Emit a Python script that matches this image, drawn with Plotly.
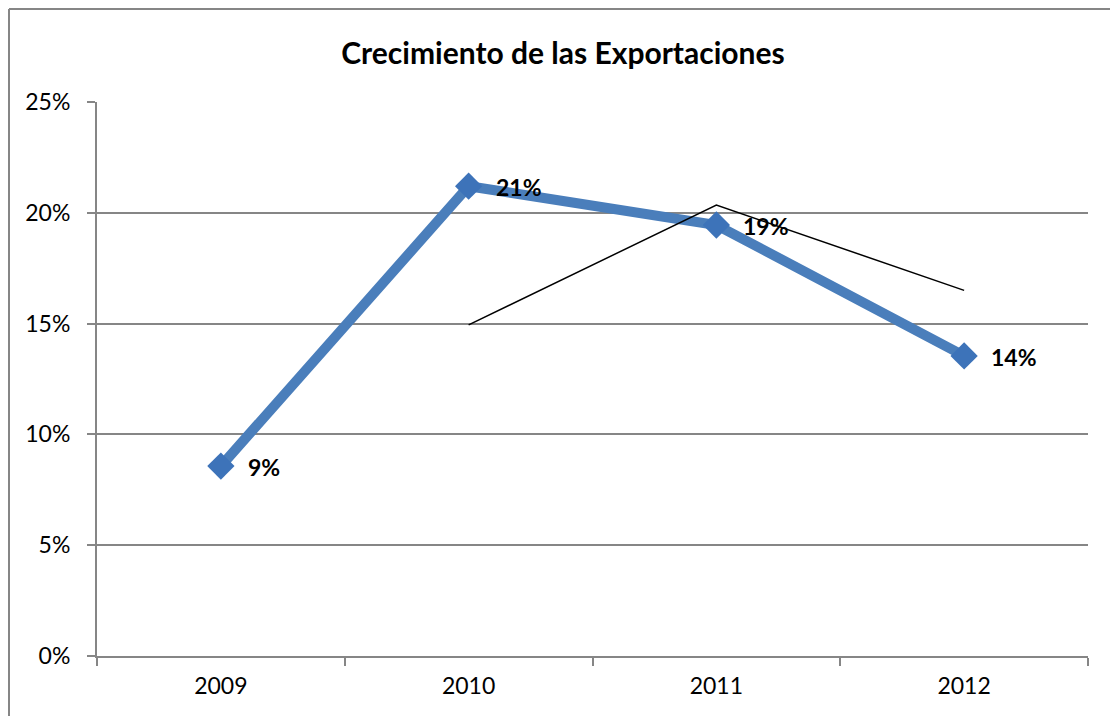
import plotly.graph_objects as go

# Crecimiento de las exportaciones
years = ['2009', '2010', '2011', '2012']
crecimiento = [0.0857, 0.212, 0.1945, 0.1354]

# thin black series (starts at 2010)
linea_years = ['2010', '2011', '2012']
linea_vals = [0.1494, 0.2035, 0.165]

y_ticks = [0, 0.05, 0.10, 0.15, 0.20, 0.25]

FONT = 'Lato'
GRAY = '#868686'

W, H = 1110, 716
L, T, PW, PH = 97, 102, 991, 554

fig = go.Figure()

fig.add_trace(go.Scatter(
    x=years, y=crecimiento,
    mode='lines+markers',
    line=dict(color='#4a7ebb', width=10),
    marker=dict(symbol='diamond', size=21, color='#3d73b9'),
    showlegend=False
))

fig.add_trace(go.Scatter(
    x=linea_years, y=linea_vals,
    mode='lines',
    line=dict(color='black', width=1.5),
    showlegend=False, hoverinfo='skip'
))

# data labels (category index as x)
for i, v in enumerate(crecimiento):
    fig.add_annotation(
        x=i, y=v, text=f'<b>{v:.0%}</b>',
        showarrow=False, xanchor='left', xshift=25, yshift=-1,
        font=dict(family=FONT, size=23, color='black')
    )

# chart frame: only left and top edges are visible in the source (cropped)
fx0 = (9 - L) / PW
fy1 = (T + PH - 9) / PH
fig.add_shape(type='line', xref='paper', yref='paper',
              x0=fx0, x1=fx0, y0=(T + PH - H - 10) / PH, y1=fy1,
              line=dict(color=GRAY, width=2), layer='below')
fig.add_shape(type='line', xref='paper', yref='paper',
              x0=fx0, x1=(W + 10 - L) / PW, y0=fy1, y1=fy1,
              line=dict(color=GRAY, width=2), layer='below')

fig.update_layout(
    width=W, height=H,
    margin=dict(l=L, r=W - L - PW, t=T, b=H - T - PH),
    paper_bgcolor='white', plot_bgcolor='white',
    title=dict(
        text='<b>Crecimiento de las Exportaciones</b>',
        x=(563 - L) / PW, xref='paper', xanchor='center',
        y=1 - 53 / H, yanchor='middle',
        font=dict(family=FONT, size=30, color='black')
    ),
    font=dict(family=FONT, size=23, color='black'),
)

fig.update_xaxes(
    type='category', categoryorder='array', categoryarray=years,
    range=[-0.5, 3.5],
    showline=True, linecolor=GRAY, linewidth=2,
    showgrid=False, tickson='boundaries',
    ticks='outside', ticklen=8, tickcolor=GRAY, tickwidth=2,
    tickfont=dict(family=FONT, size=23), ticklabelstandoff=8,
    zeroline=False
)
fig.update_yaxes(
    range=[0, 0.25], tickvals=y_ticks, tickformat='.0%',
    showline=True, linecolor=GRAY, linewidth=2,
    showgrid=True, gridcolor=GRAY, gridwidth=1.5,
    ticks='outside', ticklen=8, tickcolor=GRAY, tickwidth=2,
    tickfont=dict(family=FONT, size=23), ticklabelstandoff=12,
    zeroline=False
)

# drop the default body margin, scrollbars and the modebar
fig.write_html(
    'out.html',
    config={'displayModeBar': False},
    post_script="document.body.style.margin='0';"
                "document.documentElement.style.overflow='hidden';"
)
